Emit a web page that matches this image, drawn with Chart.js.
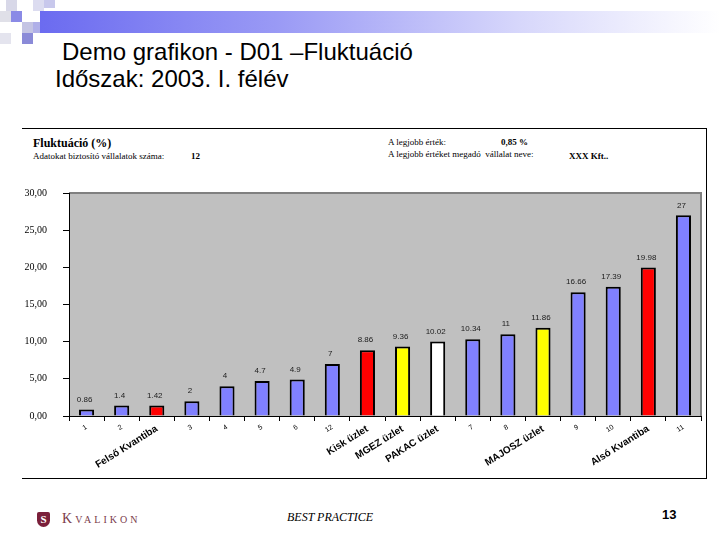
<!DOCTYPE html>
<html lang="hu">
<head>
<meta charset="utf-8">
<script src="https://cdn.jsdelivr.net/npm/chart.js@4.4.1/dist/chart.umd.min.js"></script>
<style>
  body { margin: 0; width: 720px; height: 540px; background: #fff; position: relative; overflow: hidden; font-family: "Liberation Sans", Arial, sans-serif; }
  .sq { position: absolute; width: 11px; height: 11px; }
  #band { position: absolute; left: 40px; top: 11px; width: 680px; height: 22px; background: linear-gradient(to right, #6b6bf0 0%, #9a9af5 35%, #d6d6fb 70%, #ffffff 100%); }
  .title { position: absolute; font-size: 24px; color: #000; white-space: nowrap; }
  #box { position: absolute; left: 22px; top: 128px; width: 684px; height: 349px; border-top: 1px solid #000; border-right: 1px solid #000; border-bottom: 1px solid #000; }
  .ser { position: absolute; font-family: "Liberation Serif", "Times New Roman", serif; color: #000; white-space: nowrap; }
  #wrap { position: absolute; left: 20px; top: 171px; width: 690px; height: 301px; }
</style>
</head>
<body>
<!-- dekoracio bal felso sarok -->
<div class="sq" style="left:6px;top:0;background:#d8d8e8"></div>
<div class="sq" style="left:33px;top:0;background:#dcdcf0"></div>
<div class="sq" style="left:44px;top:0;height:8px;background:#c8c8ec"></div>
<div class="sq" style="left:0;top:11px;background:#e0e0e8"></div>
<div class="sq" style="left:11px;top:11px;background:#8a8ae6"></div>
<div class="sq" style="left:22px;top:22px;background:#c4c4e4"></div>
<div class="sq" style="left:33px;top:22px;background:#b0b0e8"></div>
<div class="sq" style="left:22px;top:33px;background:#8a8ad8"></div>
<div class="sq" style="left:0;top:33px;background:#e4e4ee"></div>
<div id="band"></div>

<div class="title" style="left:62px;top:38px;">Demo grafikon - D01 –Fluktuáció</div>
<div class="title" style="left:55px;top:65px;">Időszak: 2003. I. félév</div>

<div id="box"></div>
<div class="ser" style="left:33px;top:136px;font-size:12px;font-weight:bold;">Fluktuáció (%)</div>
<div class="ser" style="left:33px;top:151px;font-size:9px;">Adatokat biztosító vállalatok száma:</div>
<div class="ser" style="left:191px;top:151px;font-size:9px;font-weight:bold;">12</div>
<div class="ser" style="left:388px;top:137px;font-size:9px;">A legjobb érték:</div>
<div class="ser" style="left:501px;top:137px;font-size:9px;font-weight:bold;">0,85 %</div>
<div class="ser" style="left:388px;top:149px;font-size:9px;">A legjobb értéket megadó &nbsp;vállalat neve:</div>
<div class="ser" style="left:569px;top:151px;font-size:9px;font-weight:bold;">XXX Kft..</div>

<div id="wrap"><canvas id="grafikon"></canvas></div>

<!-- lablec -->
<div style="position:absolute;left:37px;top:512px;width:13px;height:15px;background:#7a1f3a;border-radius:2px 2px 7px 7px;color:#fff;font:bold 11px 'Liberation Serif',serif;text-align:center;line-height:15px;">S</div>
<div class="ser" style="left:62px;top:511px;font-size:14px;color:#7a3a4a;letter-spacing:3px;">K<span style="font-size:10px;">VALIKON</span></div>
<div class="ser" style="left:287px;top:510px;font-size:12px;font-style:italic;">BEST PRACTICE</div>
<div style="position:absolute;left:662px;top:507px;font:bold 13px 'Liberation Sans',Arial,sans-serif;">13</div>

<script>
// Fluktuáció adatok
const cimkek = ['1', '2', 'Felső Kvantiba', '3', '4', '5', '6', '12', 'Kisk üzlet', 'MGEZ üzlet',
  'PAKAC üzlet', '7', '8', 'MAJOSZ üzlet', '9', '10', 'Alsó Kvantiba', '11'];
const ertekek = [0.86, 1.4, 1.42, 2, 4, 4.7, 4.9, 7, 8.86, 9.36, 10.02, 10.34, 11, 11.86, 16.66, 17.39, 19.98, 27];
const szinek = ['#8080ff', '#8080ff', '#ff0000', '#8080ff', '#8080ff', '#8080ff', '#8080ff', '#8080ff', '#ff0000',
  '#ffff00', '#ffffff', '#8080ff', '#8080ff', '#ffff00', '#8080ff', '#8080ff', '#ff0000', '#8080ff'];
const yTickek = [0, 5, 10, 15, 20, 25, 30];

// szürke háttér + értékcímkék
const rajzTerulet = {
  id: 'rajzTerulet',
  beforeDraw(chart) {
    const { ctx, chartArea: a } = chart;
    ctx.save();
    ctx.fillStyle = '#c0c0c0';
    ctx.fillRect(a.left, a.top, a.right - a.left, a.bottom - a.top);
    ctx.strokeStyle = '#808080';
    ctx.lineWidth = 2;
    ctx.beginPath();
    ctx.moveTo(a.left, a.top);
    ctx.lineTo(a.right, a.top);
    ctx.lineTo(a.right, a.bottom);
    ctx.stroke();
    ctx.restore();
  },
  afterDatasetsDraw(chart) {
    const { ctx } = chart;
    const meta = chart.getDatasetMeta(0);
    ctx.save();
    ctx.font = '8px "Liberation Sans", Arial, sans-serif';
    ctx.fillStyle = '#202020';
    ctx.textAlign = 'center';
    ctx.textBaseline = 'bottom';
    meta.data.forEach((bar, i) => {
      ctx.fillText(String(ertekek[i]), bar.x - 2, bar.y - 6);
    });
    ctx.restore();
  }
};

const ctxFluk = document.getElementById('grafikon');
new Chart(ctxFluk, {
  type: 'bar',
  data: {
    labels: cimkek,
    datasets: [{
      data: ertekek,
      backgroundColor: szinek,
      borderColor: '#000',
      borderWidth: 2,
      borderSkipped: 'bottom',
      categoryPercentage: 1,
      barPercentage: 0.43
    }]
  },
  options: {
    responsive: true,
    maintainAspectRatio: false,
    animation: false,
    layout: { padding: { top: 3, right: 9, left: 0, bottom: 0 } },
    plugins: {
      legend: { display: false },
      tooltip: { enabled: false }
    },
    scales: {
      y: {
        min: 0,
        max: 30,
        afterFit(s) { s.width = 49; },
        afterBuildTicks(s) { s.ticks = yTickek.map(v => ({ value: v })); },
        border: { display: true, color: '#000', width: 1 },
        grid: { drawOnChartArea: false, drawTicks: true, tickLength: 6, color: '#000' },
        ticks: {
          padding: 16,
          color: '#000',
          font: { family: '"Liberation Serif", "Times New Roman", serif', size: 10 },
          callback: v => v.toFixed(2).replace('.', ',')
        }
      },
      x: {
        afterFit(s) { s.height = 56; },
        border: { display: true, color: '#000', width: 1 },
        grid: { offset: true, drawOnChartArea: false, drawTicks: true, tickLength: 5, color: '#000' },
        ticks: {
          autoSkip: false,
          minRotation: 32,
          maxRotation: 32,
          padding: 2,
          color: '#000',
          font: ctx => {
            const l = cimkek[ctx.index] || '';
            return l.length > 2
              ? { family: '"Liberation Sans", Arial, sans-serif', size: 10, weight: 'bold' }
              : { family: '"Liberation Sans", Arial, sans-serif', size: 7 };
          }
        }
      }
    }
  },
  plugins: [rajzTerulet]
});
</script>
</body>
</html>
